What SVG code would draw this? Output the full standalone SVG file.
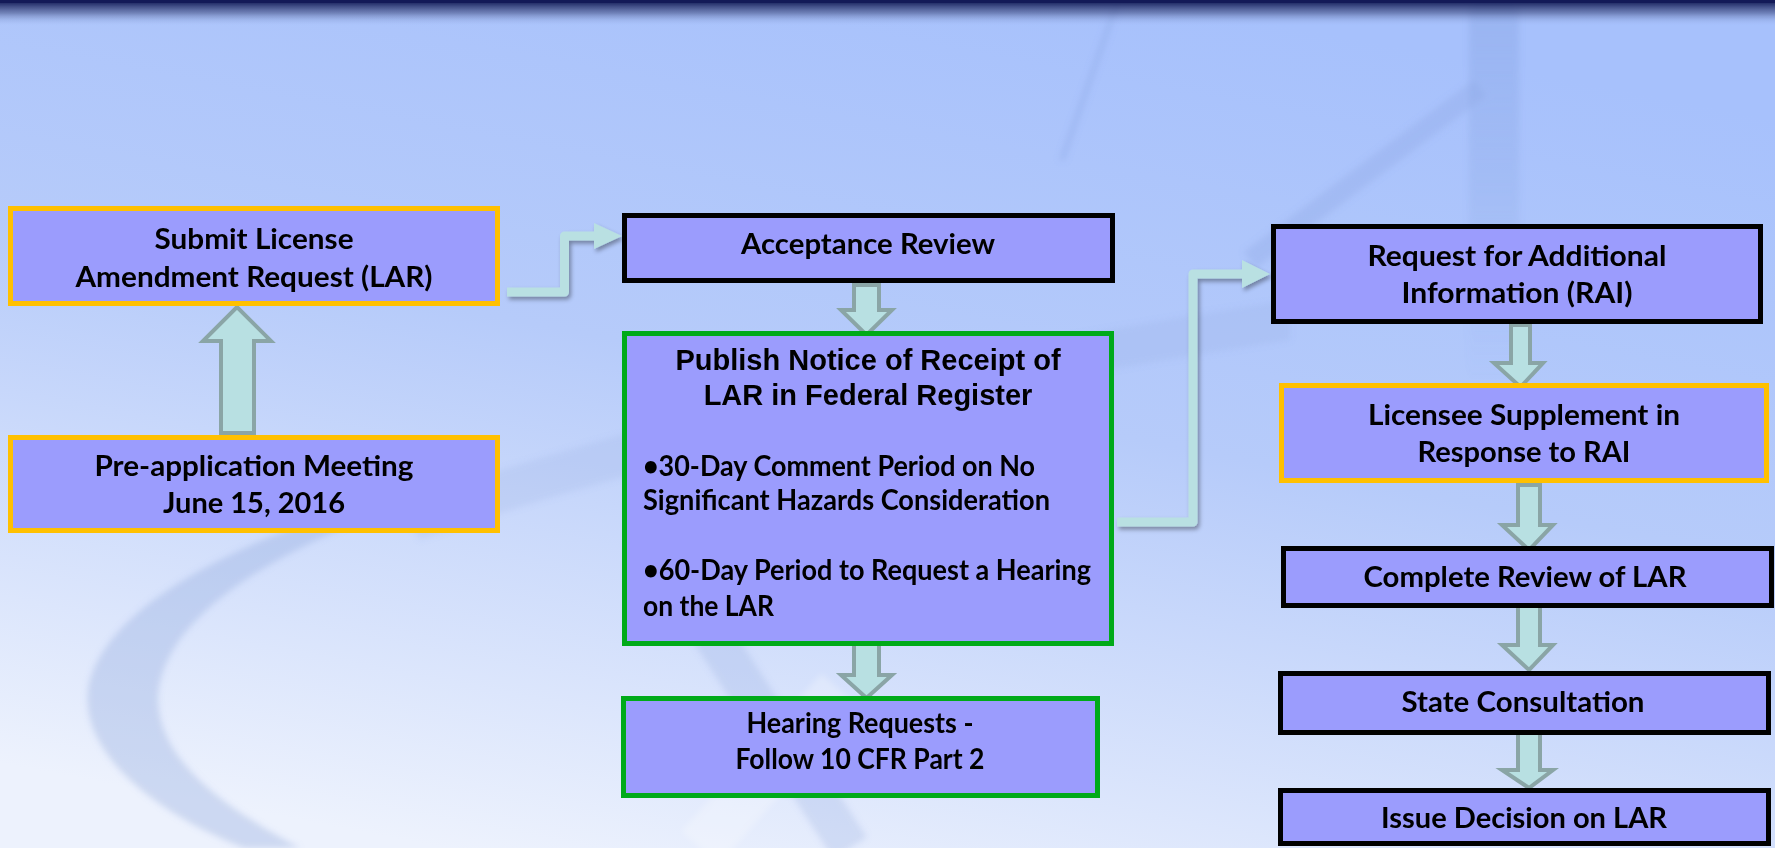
<svg xmlns="http://www.w3.org/2000/svg" width="1775" height="848" viewBox="0 0 1775 848">
<defs>
<linearGradient id="bg" x1="0.65" y1="0" x2="0.25" y2="1">
<stop offset="0" stop-color="#A7C1FC"/>
<stop offset="0.45" stop-color="#B6CBFA"/>
<stop offset="1" stop-color="#EDF2FD"/>
</linearGradient>
<linearGradient id="topband" x1="0" y1="0" x2="0" y2="1">
<stop offset="0" stop-color="#131A58" stop-opacity="1"/>
<stop offset="0.12" stop-color="#1E2862" stop-opacity="0.95"/>
<stop offset="0.5" stop-color="#3E4A80" stop-opacity="0.55"/>
<stop offset="1" stop-color="#A7C1FC" stop-opacity="0"/>
</linearGradient>
<linearGradient id="vband" x1="0" y1="0" x2="0" y2="1">
<stop offset="0" stop-color="#8AA6E4" stop-opacity="0.45"/>
<stop offset="1" stop-color="#8AA6E4" stop-opacity="0"/>
</linearGradient>
<filter id="shadow" x="-20%" y="-20%" width="140%" height="140%">
<feDropShadow dx="2" dy="3" stdDeviation="2" flood-color="#000" flood-opacity="0.35"/>
</filter>
<filter id="soft" x="-10%" y="-10%" width="120%" height="120%">
<feGaussianBlur stdDeviation="3"/>
</filter>
</defs>
<style>
.box{fill:#9B9CFD;stroke-width:5}
.orange{stroke:#FFC000}
.black{stroke:#000}
.green{stroke:#00AA19}
.t{font-family:Lato,"Liberation Sans",sans-serif;font-weight:bold;font-size:29px;fill:#000;text-anchor:middle}
.ta{font-family:"Liberation Sans",Arial,sans-serif;font-weight:bold;font-size:29px;fill:#000;text-anchor:middle}
.tl{font-family:Lato,"Liberation Sans",sans-serif;font-weight:bold;font-size:29px;fill:#000;text-anchor:start}
.blk{fill:#B8E0E2;stroke:#8AA5A6;stroke-width:4;stroke-linejoin:miter}
.elbow{fill:none;stroke:#B9E0E2;stroke-width:9;stroke-linejoin:round}
.head{fill:#B9E0E2}
</style>

<!-- background -->
<rect x="0" y="0" width="1775" height="848" fill="url(#bg)"/>
<g id="watermark" filter="url(#soft)">
<path d="M 360 505 C 230 545 100 610 88 690 C 80 760 170 820 245 848 L 300 848 C 220 805 160 760 158 700 C 160 630 240 565 400 505 Z" fill="#8EA8DE" opacity="0.35"/>
<path d="M 400 505 C 600 430 900 360 1290 300 L 1290 340 C 900 400 620 470 420 540 Z" fill="#8EA8DE" opacity="0.18"/>
<path d="M 1118 0 L 1062 160" stroke="#8EA8E6" stroke-width="5" opacity="0.45" fill="none"/>
<rect x="1469" y="0" width="50" height="380" fill="url(#vband)"/>
<path d="M 1480 88 L 1250 260" stroke="#8EA8E6" stroke-width="20" opacity="0.35" fill="none"/>
<path d="M 690 600 L 850 848" stroke="#8EA8DE" stroke-width="40" opacity="0.25" fill="none"/>
<path d="M 700 848 L 840 690" stroke="#FFFFFF" stroke-width="50" opacity="0.25" fill="none"/>
</g>
<rect x="0" y="0" width="1775" height="26" fill="url(#topband)"/>
<rect x="0" y="0" width="1775" height="3" fill="#131A58"/>

<!-- connectors -->
<g id="connectors">
<g filter="url(#shadow)">
<path class="elbow" d="M 507 292 H 564.5 V 236 H 596"/>
<polygon class="head" points="594,223 622,236 594,249"/>
<path class="elbow" d="M 1117 522 H 1193 V 274 H 1244"/>
<polygon class="head" points="1242,260 1270,274 1242,288"/>
</g>
<polygon class="blk" points="221,433 221,341 203,341 237,307 271,341 254,341 254,433"/>
<polygon class="blk" points="854,285 879,285 879,310 892,310 866.5,335 841,310 854,310"/>
<polygon class="blk" points="854,643 879,643 879,675 892,675 866.5,698 841,675 854,675"/>
<polygon class="blk" points="1511,325 1530,325 1530,363 1543,363 1520.5,387 1494,363 1511,363"/>
<polygon class="blk" points="1518,485 1540,485 1540,525 1553,525 1529,550 1502,525 1518,525"/>
<polygon class="blk" points="1518,606 1540,606 1540,645 1553,645 1529,670 1502,645 1518,645"/>
<polygon class="blk" points="1518,732 1540,732 1540,770 1553,770 1529,788 1502,770 1518,770"/>
</g>

<!-- nodes -->
<g id="submit">
<rect class="box orange" x="10.5" y="208.5" width="487" height="95"/>
<text class="t" x="254" y="249" textLength="199" lengthAdjust="spacingAndGlyphs">Submit License</text>
<text class="t" x="254" y="287" textLength="357" lengthAdjust="spacingAndGlyphs">Amendment Request (LAR)</text>
</g>
<g id="preapp">
<rect class="box orange" x="10.5" y="437.5" width="487" height="93"/>
<text class="t" x="254" y="476" textLength="319" lengthAdjust="spacingAndGlyphs">Pre-application Meeting</text>
<text class="t" x="254" y="513" textLength="182" lengthAdjust="spacingAndGlyphs">June 15, 2016</text>
</g>
<g id="acceptance">
<rect class="box black" x="624.5" y="215.5" width="488" height="65"/>
<text class="t" x="868" y="254" textLength="254" lengthAdjust="spacingAndGlyphs">Acceptance Review</text>
</g>
<g id="publish">
<rect class="box green" x="624.5" y="333.5" width="487" height="310"/>
<text class="ta" x="868" y="370">Publish Notice of Receipt of</text>
<text class="ta" x="868" y="405">LAR in Federal Register</text>
<text class="tl" x="643" y="476" textLength="392" lengthAdjust="spacingAndGlyphs">•30-Day Comment Period on No</text>
<text class="tl" x="643" y="510" textLength="407" lengthAdjust="spacingAndGlyphs">Significant Hazards Consideration</text>
<text class="tl" x="643" y="580" textLength="448" lengthAdjust="spacingAndGlyphs">•60-Day Period to Request a Hearing</text>
<text class="tl" x="643" y="616" textLength="131" lengthAdjust="spacingAndGlyphs">on the LAR</text>
</g>
<g id="hearing">
<rect class="box green" x="623.5" y="698.5" width="474" height="97"/>
<text class="t" x="860" y="733" textLength="227" lengthAdjust="spacingAndGlyphs">Hearing Requests -</text>
<text class="t" x="860" y="769" textLength="249" lengthAdjust="spacingAndGlyphs">Follow 10 CFR Part 2</text>
</g>
<g id="rai">
<rect class="box black" x="1273.5" y="226.5" width="487" height="95"/>
<text class="t" x="1517" y="266" textLength="299" lengthAdjust="spacingAndGlyphs">Request for Additional</text>
<text class="t" x="1517" y="303" textLength="231" lengthAdjust="spacingAndGlyphs">Information (RAI)</text>
</g>
<g id="licensee">
<rect class="box orange" x="1281.5" y="385.5" width="485" height="95"/>
<text class="t" x="1524" y="425" textLength="312" lengthAdjust="spacingAndGlyphs">Licensee Supplement in</text>
<text class="t" x="1524" y="462" textLength="213" lengthAdjust="spacingAndGlyphs">Response to RAI</text>
</g>
<g id="complete">
<rect class="box black" x="1283.5" y="548.5" width="488" height="57"/>
<text class="t" x="1525" y="587" textLength="323" lengthAdjust="spacingAndGlyphs">Complete Review of LAR</text>
</g>
<g id="state">
<rect class="box black" x="1280.5" y="673.5" width="488" height="59"/>
<text class="t" x="1523" y="712" textLength="243" lengthAdjust="spacingAndGlyphs">State Consultation</text>
</g>
<g id="issue">
<rect class="box black" x="1280.5" y="790.5" width="488" height="53"/>
<text class="t" x="1524" y="828" textLength="286" lengthAdjust="spacingAndGlyphs">Issue Decision on LAR</text>
</g>
</svg>
